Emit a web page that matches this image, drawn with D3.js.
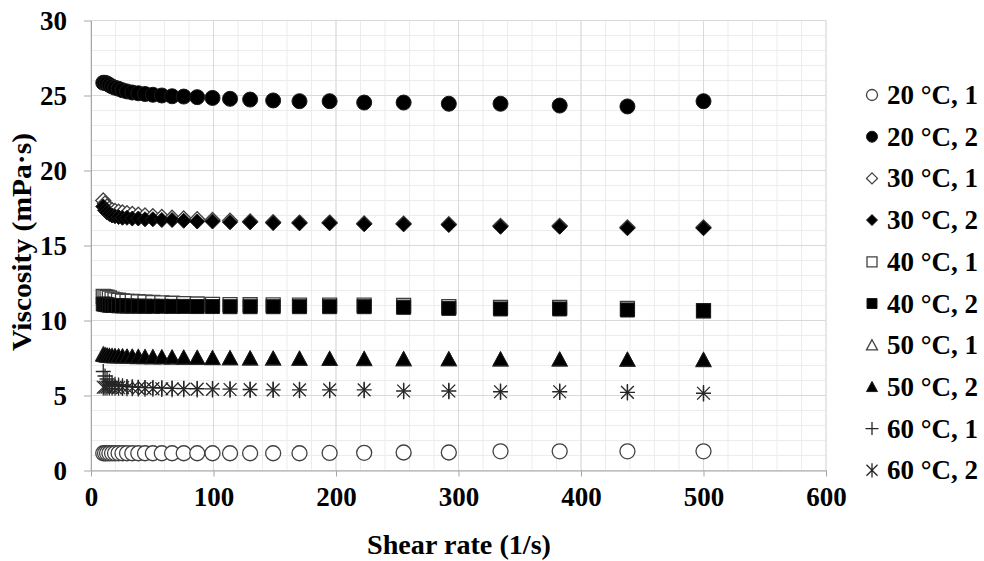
<!DOCTYPE html>
<html>
<head>
<meta charset="utf-8">
<script src="https://cdn.jsdelivr.net/npm/d3@7"></script>
<style>
  html, body { margin: 0; padding: 0; background: #fff; }
  svg text { font-family: "Liberation Serif", "Times New Roman", serif; font-weight: bold; fill: #000; }
</style>
</head>
<body>
<svg id="chart" width="984" height="561"></svg>
<script>
// Shear rate (1/s) of each measurement point
const shearRate = [10, 11.45, 13.1, 15.0, 17.2, 19.6, 22.5, 25.7, 29.4, 33.7, 38.6, 44.1, 50.5, 57.8, 66.2,
                   75.7, 86.7, 99.2, 113.5, 129.9, 148.7, 170.2, 194.8, 223.0, 255.2, 292.1, 334.3, 382.6, 437.9, 500];

// Viscosity (mPa·s) for each temperature / run
const visc20_1 = [1.15, 1.15, 1.15, 1.15, 1.15, 1.15, 1.15, 1.15, 1.15, 1.15, 1.15, 1.15, 1.15, 1.15, 1.15,
                  1.15, 1.15, 1.15, 1.15, 1.15, 1.15, 1.15, 1.17, 1.18, 1.2, 1.2, 1.28, 1.28, 1.28, 1.28];
const visc20_2 = [25.85, 25.85, 25.8, 25.7, 25.6, 25.52, 25.45, 25.35, 25.27, 25.2, 25.15, 25.1, 25.05, 25.0, 24.95,
                  24.93, 24.89, 24.84, 24.78, 24.73, 24.67, 24.62, 24.62, 24.53, 24.53, 24.45, 24.45, 24.33, 24.27, 24.62];
const visc30_1 = [18.0, 17.8, 17.6, 17.45, 17.35, 17.3, 17.25, 17.2, 17.15, 17.1, 17.05, 17.0, 16.95, 16.9, 16.85,
                  16.8, 16.75, 16.7, 16.65, 16.6, 16.55, 16.53, 16.53, 16.47, 16.46, 16.42, 16.31, 16.31, 16.21, 16.21];
const visc30_2 = [17.6, 17.35, 17.2, 17.1, 17.0, 16.95, 16.9, 16.85, 16.85, 16.8, 16.8, 16.75, 16.75, 16.7, 16.7,
                  16.65, 16.6, 16.6, 16.55, 16.55, 16.5, 16.48, 16.48, 16.42, 16.41, 16.37, 16.25, 16.25, 16.15, 16.15];
const visc40_1 = [11.6, 11.58, 11.55, 11.5, 11.42, 11.38, 11.35, 11.3, 11.28, 11.27, 11.25, 11.22, 11.2, 11.17, 11.15,
                  11.13, 11.1, 11.08, 11.06, 11.05, 11.04, 11.03, 11.03, 11.02, 11.0, 10.92, 10.88, 10.87, 10.8, 10.65];
const visc40_2 = [11.1, 11.08, 11.05, 11.02, 11.0, 11.0, 10.98, 10.97, 10.97, 10.96, 10.96, 10.95, 10.95, 10.95, 10.94,
                  10.94, 10.93, 10.93, 10.92, 10.92, 10.92, 10.92, 10.92, 10.92, 10.88, 10.81, 10.77, 10.77, 10.7, 10.65];
const visc50_1 = [7.75, 7.7, 7.66, 7.63, 7.62, 7.61, 7.6, 7.59, 7.58, 7.57, 7.56, 7.55, 7.54, 7.53, 7.52,
                  7.51, 7.5, 7.48, 7.47, 7.46, 7.45, 7.44, 7.43, 7.42, 7.41, 7.4, 7.39, 7.38, 7.37, 7.36];
const visc50_2 = [7.7, 7.68, 7.66, 7.65, 7.64, 7.63, 7.62, 7.61, 7.6, 7.6, 7.58, 7.57, 7.56, 7.55, 7.54,
                  7.53, 7.52, 7.5, 7.5, 7.48, 7.47, 7.46, 7.45, 7.45, 7.44, 7.43, 7.42, 7.41, 7.4, 7.38];
const visc60_1 = [6.6, 6.3, 6.1, 5.95, 5.85, 5.75, 5.7, 5.65, 5.6, 5.58, 5.55, 5.53, 5.52, 5.5, 5.48,
                  5.46, 5.45, 5.44, 5.42, 5.4, 5.38, 5.37, 5.37, 5.37, 5.3, 5.3, 5.25, 5.25, 5.21, 5.15];
const visc60_2 = [5.55, 5.55, 5.55, 5.55, 5.55, 5.54, 5.53, 5.52, 5.5, 5.5, 5.48, 5.47, 5.46, 5.45, 5.44,
                  5.43, 5.42, 5.41, 5.4, 5.39, 5.38, 5.37, 5.37, 5.37, 5.3, 5.3, 5.25, 5.25, 5.21, 5.15];

const seriesNames = ["20 °C, 1", "20 °C, 2", "30 °C, 1", "30 °C, 2", "40 °C, 1",
                     "40 °C, 2", "50 °C, 1", "50 °C, 2", "60 °C, 1", "60 °C, 2"];
const seriesValues = [visc20_1, visc20_2, visc30_1, visc30_2, visc40_1,
                      visc40_2, visc50_1, visc50_2, visc60_1, visc60_2];

const xTickValues = [0, 100, 200, 300, 400, 500, 600];
const yTickValues = [0, 5, 10, 15, 20, 25, 30];

const xTitle = "Shear rate (1/s)";
const yTitle = "Viscosity (mPa·s)";

// Marker look of each series (shape, filled or hollow)
const markerStyles = [
  { shape: "circle",   filled: false },
  { shape: "circle",   filled: true  },
  { shape: "diamond",  filled: false },
  { shape: "diamond",  filled: true  },
  { shape: "square",   filled: false },
  { shape: "square",   filled: true  },
  { shape: "triangle", filled: false },
  { shape: "triangle", filled: true  },
  { shape: "plus",     filled: false },
  { shape: "star",     filled: false }
];

const svg = d3.select("#chart");
const plot = { left: 91, right: 826, top: 20.5, bottom: 470.5 };
const fontSize = "27px";

const x = d3.scaleLinear().domain([0, 600]).range([plot.left, plot.right]);
const y = d3.scaleLinear().domain([0, 30]).range([plot.bottom, plot.top]);

// Gridlines: minor first, then major
const grid = svg.append("g");
grid.selectAll(".vminor").data(x.ticks(30)).join("line")
  .attr("x1", d => x(d)).attr("x2", d => x(d))
  .attr("y1", plot.top).attr("y2", plot.bottom)
  .attr("stroke", "#ececec").attr("stroke-width", 1);
grid.selectAll(".hminor").data(y.ticks(30)).join("line")
  .attr("x1", plot.left).attr("x2", plot.right)
  .attr("y1", d => y(d)).attr("y2", d => y(d))
  .attr("stroke", "#ececec").attr("stroke-width", 1);
grid.selectAll(".vmajor").data(xTickValues).join("line")
  .attr("x1", d => x(d)).attr("x2", d => x(d))
  .attr("y1", plot.top).attr("y2", plot.bottom)
  .attr("stroke", "#d9d9d9").attr("stroke-width", 1);
grid.selectAll(".hmajor").data(yTickValues).join("line")
  .attr("x1", plot.left).attr("x2", plot.right)
  .attr("y1", d => y(d)).attr("y2", d => y(d))
  .attr("stroke", "#d9d9d9").attr("stroke-width", 1);

// Axes
const xAxis = svg.append("g")
  .attr("transform", `translate(0,${plot.bottom})`)
  .call(d3.axisBottom(x).tickValues(xTickValues).tickSize(6).tickSizeOuter(0));
const yAxis = svg.append("g")
  .attr("transform", `translate(${plot.left},0)`)
  .call(d3.axisLeft(y).tickValues(yTickValues).tickSize(7).tickSizeOuter(0).tickPadding(17));

[xAxis, yAxis].forEach(a => {
  a.select(".domain").attr("stroke", "#a6a6a6");
  a.selectAll(".tick line").attr("stroke", "#a6a6a6");
  a.selectAll("text").style("font-size", fontSize).attr("fill", "#000");
});
xAxis.selectAll("text").attr("y", 35.5).attr("dy", 0);
yAxis.selectAll("text").attr("dy", "0.33em");

// Marker path generator
function markerPath(shape, s) {
  const h = s / 2;
  switch (shape) {
    case "circle":
      return `M${h},0A${h},${h} 0 1,1 ${-h},0A${h},${h} 0 1,1 ${h},0Z`;
    case "diamond":
      return `M0,${-h}L${h},0L0,${h}L${-h},0Z`;
    case "square":
      return `M${-h},${-h}H${h}V${h}H${-h}Z`;
    case "triangle":
      return `M0,${-h}L${h},${h * 0.85}L${-h},${h * 0.85}Z`;
    case "plus":
      return `M${-h},0H${h}M0,${-h}V${h}`;
    case "star": {
      const d = h * 0.85;
      return `M${-d},${-d}L${d},${d}M${-d},${d}L${d},${-d}M0,${-h * 1.1}V${h * 1.1}`;
    }
  }
}

function styleMarker(sel, st) {
  const lineOnly = st.shape === "plus" || st.shape === "star";
  if (lineOnly) {
    sel.attr("fill", "none").attr("stroke", "#262626").attr("stroke-width", 1.3);
  } else if (st.filled) {
    sel.attr("fill", "#000").attr("stroke", "#1a1a1a").attr("stroke-width", 1);
  } else {
    sel.attr("fill", "#fff").attr("stroke", "#404040").attr("stroke-width", 1.3);
  }
}

const markerSize = { circle: 15, diamond: 15, square: 14, triangle: 15, plus: 15, star: 15 };
const legendSize = { circle: 11, diamond: 11, square: 10, triangle: 11, plus: 13, star: 13 };

// Data points, series drawn in order
const marks = svg.append("g");
seriesValues.forEach((vals, i) => {
  const st = markerStyles[i];
  const pts = shearRate.map((sr, j) => ({ sr, v: vals[j] }));
  const g = marks.append("g");
  g.selectAll("path").data(pts).join("path")
    .attr("transform", d => `translate(${x(d.sr)},${y(d.v)})`)
    .attr("d", markerPath(st.shape, markerSize[st.shape]))
    .call(styleMarker, st);
});

// Legend
const legend = svg.append("g");
seriesNames.forEach((name, i) => {
  const st = markerStyles[i];
  const row = legend.append("g").attr("transform", `translate(872,${95 + i * 41.7})`);
  row.append("path")
    .attr("d", markerPath(st.shape, legendSize[st.shape]))
    .call(styleMarker, st);
  row.append("text")
    .attr("x", 15).attr("y", 9)
    .style("font-size", fontSize)
    .text(name);
});

// Axis titles
svg.append("text")
  .attr("class", "x-title")
  .attr("x", 459).attr("y", 554)
  .attr("text-anchor", "middle")
  .style("font-size", fontSize)
  .text(xTitle);
svg.append("text")
  .attr("class", "y-title")
  .attr("transform", "translate(31,242) rotate(-90)")
  .attr("text-anchor", "middle")
  .style("font-size", fontSize)
  .text(yTitle);

// Title lengths set to the measured span
function fitLength(sel, width) {
  sel.attr("textLength", width).attr("lengthAdjust", "spacingAndGlyphs");
}
fitLength(svg.select(".x-title"), 184);
fitLength(svg.select(".y-title"), 218);
</script>
</body>
</html>
